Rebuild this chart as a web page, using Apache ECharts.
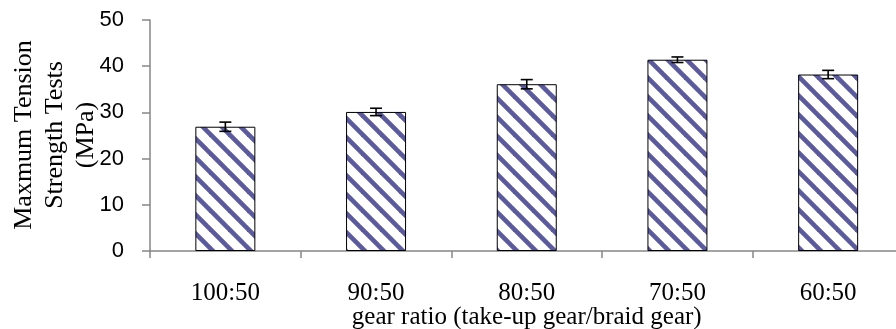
<!DOCTYPE html>
<html>
<head>
<meta charset="utf-8">
<script src="https://cdn.jsdelivr.net/npm/echarts@6/dist/echarts.min.js"></script>
<style>html,body{margin:0;padding:0;background:#fff;}#c{width:896px;height:329px;}</style>
</head>
<body>
<div id="c"></div>
<script>
var categories = ['100:50', '90:50', '80:50', '70:50', '60:50'];
var values = [26.9, 30.1, 36.1, 41.4, 38.2];
var errors = [1.0, 0.8, 1.0, 0.6, 0.9];
var yTicks = [0, 10, 20, 30, 40, 50];
var yTitle = 'Maxmum Tension\nStrength Tests\n(MPa)';
var xTitle = 'gear ratio (take-up gear/braid gear)';

function hatch() {
  var s = 19;
  var c = document.createElement('canvas');
  c.width = s; c.height = s;
  var g = c.getContext('2d');
  g.fillStyle = '#ffffff';
  g.fillRect(0, 0, s, s);
  g.strokeStyle = '#5a5a9c';
  g.lineWidth = 4.6;
  for (var k = -1; k <= 1; k++) {
    g.beginPath();
    g.moveTo(-2 + k * s, -2);
    g.lineTo(s + 2 + k * s, s + 2);
    g.stroke();
  }
  return c;
}

var chart = echarts.init(document.getElementById('c'));
chart.setOption({
  animation: false,
  backgroundColor: '#ffffff',
  grid: { left: 150, top: 20, bottom: 78, width: 753.5, containLabel: false, outerBoundsMode: 'none' },
  xAxis: {
    type: 'category',
    data: categories,
    boundaryGap: true,
    axisLine: { lineStyle: { color: '#868686', width: 1.5 } },
    axisTick: { show: true, length: 7, alignWithLabel: false, lineStyle: { color: '#868686', width: 1.5 } },
    axisLabel: { color: '#000', fontFamily: 'Liberation Serif', fontSize: 25, margin: 30 },
    name: xTitle,
    nameLocation: 'middle',
    nameGap: 54,
    nameMoveOverlap: false,
    nameTextStyle: { color: '#000', fontFamily: 'Liberation Serif', fontSize: 25 }
  },
  yAxis: {
    type: 'value',
    min: yTicks[0],
    max: yTicks[yTicks.length - 1],
    interval: 10,
    splitLine: { show: false },
    axisLine: { show: true, lineStyle: { color: '#868686', width: 1.5 } },
    axisTick: { show: true, length: 8, lineStyle: { color: '#868686', width: 1.5 } },
    axisLabel: { color: '#000', fontFamily: 'Liberation Sans', fontSize: 22, margin: 26 }
  },
  graphic: [{
    type: 'text',
    x: 55,
    y: 135,
    rotation: Math.PI / 2,
    style: {
      text: yTitle,
      fill: '#000',
      font: '26px "Liberation Serif"',
      lineHeight: 31,
      align: 'center',
      verticalAlign: 'middle'
    }
  }],
  series: [{
    type: 'bar',
    data: values,
    barWidth: 60,
    itemStyle: {
      color: { image: hatch(), repeat: 'repeat' },
      borderColor: '#000',
      borderWidth: 1
    }
  }, {
    type: 'custom',
    data: values.map(function (v, i) { return [i, v - errors[i], v + errors[i]]; }),
    renderItem: function (params, api) {
      var lo = api.coord([api.value(0), api.value(1)]);
      var hi = api.coord([api.value(0), api.value(2)]);
      var hw = 6;
      var st = { stroke: '#000', lineWidth: 1.6 };
      return {
        type: 'group',
        children: [
          { type: 'line', shape: { x1: lo[0], y1: lo[1], x2: hi[0], y2: hi[1] }, style: st },
          { type: 'line', shape: { x1: lo[0] - hw, y1: lo[1], x2: lo[0] + hw, y2: lo[1] }, style: st },
          { type: 'line', shape: { x1: hi[0] - hw, y1: hi[1], x2: hi[0] + hw, y2: hi[1] }, style: st }
        ]
      };
    },
    z: 10
  }]
});
</script>
</body>
</html>
